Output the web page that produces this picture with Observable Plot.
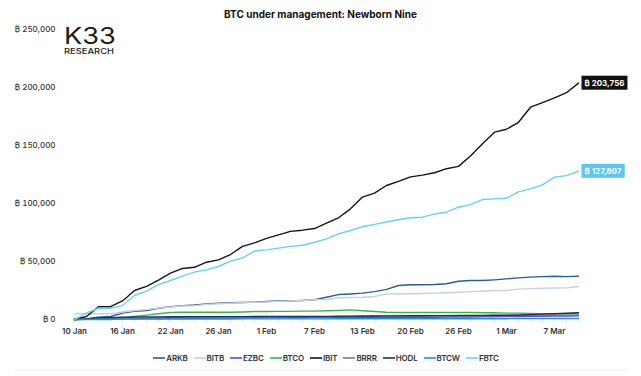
<!DOCTYPE html>
<html>
<head>
<meta charset="utf-8">
<script src="https://cdn.jsdelivr.net/npm/d3@7"></script>
<script src="https://cdn.jsdelivr.net/npm/@observablehq/plot@0.6"></script>
<style>
  html, body { margin: 0; padding: 0; background: #fff; }
  body { font-family: Inter, "Noto Sans", "DejaVu Sans", sans-serif; }
  #wrap { position: relative; width: 641px; height: 376px; overflow: hidden; }
  #title { position: absolute; top: 8px; left: 0; width: 641px; text-align: center; font-size: 10px; font-weight: 700; color: #111; }
  #logo { position: absolute; left: 64px; top: 0; width: 54px; color: #1a1a1a; }
  #logo .k { position: absolute; top: 25px; left: 0; font-size: 23px; line-height: 22px; font-weight: 400; white-space: nowrap; transform: scaleX(1.18); transform-origin: left; }
  #logo .r { position: absolute; top: 48px; left: 0; font-size: 7.5px; line-height: 8px; font-weight: 500; white-space: nowrap; transform: scaleX(1.25); transform-origin: left; }
  #legend { position: absolute; top: 353px; left: -4px; width: 660px; display: flex; justify-content: center; gap: 6px; font-size: 8px; font-weight: 600; color: #333; letter-spacing: -0.15px; }
  #legend .item { display: flex; align-items: center; gap: 1px; }
  #rule { position: absolute; top: 370px; left: 15px; width: 611px; height: 1px; background: #eeeeee; }
  #chart { position: absolute; top: 0; left: 0; }
</style>
</head>
<body>
<div id="wrap">
  <div id="chart"></div>
  <div id="title">BTC under management: Newborn Nine</div>
  <div id="logo"><span class="k">K33</span><span class="r">RESEARCH</span></div>
  <div id="legend"></div>
  <div id="rule"></div>
</div>
<script>
const dates = ["10 Jan","11 Jan","12 Jan","15 Jan","16 Jan","17 Jan","18 Jan","19 Jan","22 Jan","23 Jan","24 Jan","25 Jan","26 Jan","29 Jan","30 Jan","31 Jan","1 Feb","2 Feb","5 Feb","6 Feb","7 Feb","8 Feb","9 Feb","12 Feb","13 Feb","14 Feb","15 Feb","16 Feb","20 Feb","21 Feb","22 Feb","23 Feb","26 Feb","27 Feb","28 Feb","29 Feb","1 Mar","4 Mar","5 Mar","6 Mar","7 Mar","8 Mar","11 Mar"];
const tickDates = ["10 Jan","16 Jan","22 Jan","26 Jan","1 Feb","7 Feb","13 Feb","20 Feb","26 Feb","1 Mar","7 Mar"];
const yTicks = [0, 50000, 100000, 150000, 200000, 250000];

const seriesNames = ["ARKB","BITB","EZBC","BTCO","IBIT","BRRR","HODL","BTCW","FBTC"];
const seriesColors = ["#2d5e8e","#c9d2dc","#7a3db8","#3bb54a","#151515","#6b7d97","#1c3052","#1a97d5","#6ccdf5"];

const ARKB = [0,500,2000,2600,5500,7000,7800,9700,11000,12000,12600,13500,14000,14400,14600,15000,15500,16000,16000,16400,17000,19200,21500,22000,22700,24000,26000,29300,29900,30000,30200,30800,33000,33600,33600,34200,35000,35900,36500,37000,37300,37000,37300];
const BITB = [4900,4900,4900,4900,6500,7800,8500,9800,10800,11600,12000,13000,13600,14000,14400,14800,15200,15600,16000,16400,17000,17200,18700,19000,19200,19800,22000,22000,22200,22400,22700,23000,23500,24000,24400,25000,25000,26200,26600,27000,27200,27300,28400];
const EZBC = [0,200,400,400,600,700,800,900,1000,1000,1100,1100,1200,1200,1300,1300,1400,1400,1500,1500,1600,1600,1700,1700,1800,1800,1900,1900,2000,2000,2000,2100,2100,2200,2300,2400,2500,2600,2700,2800,2900,3000,3100];
const BTCO = [0,0,0,0,500,2600,3800,4900,6000,6300,6300,6300,6300,6300,6500,6900,6900,7000,7000,7200,7200,7500,7800,8300,7500,6900,6300,6000,6000,6000,6000,6000,6000,6000,5800,5800,5500,5500,5200,5000,5000,5000,4900];
const IBIT = [0,2600,11000,11000,16000,25000,28500,34000,40000,44000,45000,49400,51400,56000,63000,66000,70000,73000,76000,77000,78400,83000,87700,95400,105500,109000,115500,119000,123000,124500,126500,130000,132000,141000,151500,161500,164000,170000,183000,187000,191000,195500,203756];
const BRRR = [0,300,600,600,1000,1200,1400,1500,1600,1700,1800,1900,2000,2000,2100,2100,2200,2200,2300,2300,2400,2400,2500,2600,2700,2800,2900,3000,3000,3100,3100,3200,3200,3300,3300,3400,3400,3500,3500,3500,3600,3600,3700];
const HODL = [0,500,1500,1500,2000,2200,2300,2300,2400,2400,2500,2500,2500,2500,2500,2600,2600,2600,2600,2600,2700,2700,2800,2900,3000,3000,3100,3100,3200,3200,3300,3300,3400,3400,3500,3600,3700,3900,4200,4600,5000,5400,5800];
const BTCW = [0,100,200,200,300,300,300,300,400,400,400,400,400,400,500,500,500,500,500,500,500,500,600,600,600,600,600,600,600,600,700,700,700,700,700,700,700,800,800,800,800,800,800];
const FBTC = [0,5500,9700,9700,12000,20700,24400,30000,33600,37400,40800,42800,45700,50300,53000,59000,60000,61500,63000,64000,66600,69500,73800,76700,80000,82000,84000,86000,87700,88200,91000,92500,96800,99000,103400,104000,104500,110000,112600,116000,122700,124000,127807];

const seriesValues = {ARKB, BITB, EZBC, BTCO, IBIT, BRRR, HODL, BTCW, FBTC};
const labelled = ["IBIT", "FBTC"];

const data = seriesNames.flatMap(name => seriesValues[name].map((v, i) => ({series: name, date: dates[i], value: v})));
const lastPoints = labelled.map(name => ({series: name, date: dates[dates.length - 1], value: seriesValues[name][seriesValues[name].length - 1]}));

const btc = d => "\u20BF " + d3.format(",")(d);
const FONT = 'Inter, "Noto Sans", "DejaVu Sans", sans-serif';

const chart = Plot.plot({
  width: 641,
  height: 376,
  marginTop: 29,
  marginBottom: 57,
  marginLeft: 71,
  marginRight: 61,
  style: {fontFamily: FONT, fontSize: "8px", color: "#333", background: "transparent"},
  x: {type: "point", domain: dates, padding: 0},
  y: {domain: [0, 250000]},
  color: {domain: seriesNames, range: seriesColors},
  marks: [
    Plot.ruleY([0], {stroke: "#e4e4e4", x1: dates[0], x2: dates[dates.length - 1]}),
    Plot.axisX({ticks: dates, tickSize: 3, stroke: "#e0e0e0", text: null, tickPadding: 0}),
    Plot.axisX({ticks: tickDates, tickSize: 0, tickPadding: 9, fontWeight: 600, fontSize: 8, fill: "#333", label: null}),
    Plot.axisY({ticks: yTicks, tickSize: 0, tickPadding: 16, tickFormat: btc, fontWeight: 500, fontSize: 8, fill: "#333", label: null}),
    Plot.line(data, {x: "date", y: "value", z: "series", stroke: "series", strokeWidth: 1.4}),
    Plot.text(lastPoints, {x: "date", y: "value", text: d => btc(d.value), dx: 6, textAnchor: "start", fill: "white", fontWeight: 700, fontSize: 8, className: "endlabel"})
  ]
});
document.getElementById("chart").appendChild(chart);

// background boxes behind end labels, sized from the rendered text
const colorOf = Object.fromEntries(seriesNames.map((n, i) => [n, seriesColors[i]]));
const boxColors = {IBIT: "#111111", FBTC: "#5cc6f0"};
d3.select(chart).selectAll("g.endlabel text").each(function(d, i) {
  const bb = this.getBBox();
  const name = lastPoints[i].series;
  const rect = document.createElementNS("http://www.w3.org/2000/svg", "rect");
  rect.setAttribute("x", bb.x - 3);
  rect.setAttribute("y", bb.y - 2);
  rect.setAttribute("width", bb.width + 6);
  rect.setAttribute("height", bb.height + 4);
  rect.setAttribute("fill", boxColors[name] || colorOf[name]);
  const t = this.getAttribute("transform");
  if (t) rect.setAttribute("transform", t);
  this.parentNode.insertBefore(rect, this);
});

// legend
const legend = d3.select("#legend");
seriesNames.forEach((name, i) => {
  const item = legend.append("div").attr("class", "item");
  const svg = item.append("svg").attr("width", 12).attr("height", 6);
  svg.append("line").attr("x1", 0).attr("x2", 12).attr("y1", 3).attr("y2", 3).attr("stroke", seriesColors[i]).attr("stroke-width", 1.6);
  item.append("span").text(name);
});
</script>
</body>
</html>
